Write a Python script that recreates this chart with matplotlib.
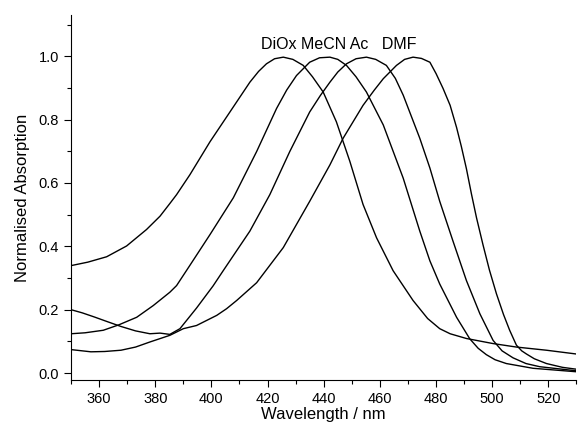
import matplotlib
matplotlib.use("Agg")
import matplotlib.pyplot as plt
from matplotlib.ticker import MultipleLocator

plt.rcParams['font.family'] = ['Liberation Sans', 'DejaVu Sans']

# wavelength (nm) / normalised absorption
wl_diox = [350, 356, 362.7, 369.8, 376.9, 381.7, 385.2, 387.6, 392.35, 399.5, 406.6, 413.7, 416.8,
           419.6, 422.5, 425.6, 429, 432.7, 436, 439.8, 444.5, 449.3, 454, 458.8, 464.7, 471.8,
           477, 481.3, 485, 490.8, 500.3, 508.6, 519.3, 530]
ab_diox = [0.339, 0.35, 0.367, 0.401, 0.453, 0.495, 0.535, 0.563, 0.626, 0.73, 0.824, 0.918, 0.952,
           0.976, 0.992, 0.997, 0.99, 0.971, 0.935, 0.887, 0.793, 0.668, 0.532, 0.427, 0.323, 0.229,
           0.172, 0.14, 0.124, 0.109, 0.093, 0.082, 0.072, 0.06]

wl_mecn = [350, 355, 361.5, 367, 373.4, 379.3, 385.2, 387.6, 392.35, 399.5, 407.8, 416.1, 423.2,
           426.8, 430.3, 435, 438.5, 442.2, 445, 448.1, 451.5, 455.2, 461.2, 468.3, 474.2, 477.8,
           481.3, 487.3, 492, 495, 497.9, 501, 505, 514.5, 530]
ab_mecn = [0.124, 0.127, 0.135, 0.152, 0.176, 0.213, 0.255, 0.276, 0.34, 0.437, 0.553, 0.699, 0.835,
           0.893, 0.939, 0.981, 0.995, 0.997, 0.99, 0.971, 0.935, 0.887, 0.783, 0.615, 0.448, 0.354,
           0.281, 0.176, 0.108, 0.078, 0.058, 0.042, 0.03, 0.015, 0.004]

wl_ac = [350, 354, 358.3, 363, 367.8, 373, 378.1, 381.7, 385.2, 388.8, 394.7, 400.6, 404.2, 413.7,
         420.8, 427.9, 435, 438.8, 442.2, 445, 448.1, 451.5, 455.2, 458.5, 462.3, 465.5, 468.3,
         474.2, 477.8, 481.3, 486, 490.8, 495.6, 500.3, 503.5, 507.4, 512, 516.9, 530]
ab_ac = [0.2, 0.19, 0.177, 0.162, 0.147, 0.133, 0.124, 0.126, 0.122, 0.14, 0.205, 0.275, 0.323, 0.448,
         0.563, 0.699, 0.824, 0.876, 0.918, 0.95, 0.976, 0.992, 0.997, 0.99, 0.971, 0.93, 0.877,
         0.741, 0.647, 0.542, 0.417, 0.292, 0.187, 0.103, 0.07, 0.048, 0.03, 0.02, 0.007]

wl_dmf = [350, 357.1, 362, 367.8, 373, 378.1, 385.2, 390, 394.7, 401.9, 405.4, 409, 416.1, 425.6,
          435, 442.2, 446.9, 454, 458, 461.2, 465.9, 468.8, 471.8, 474.8, 477.8, 480, 482.5, 485,
          487.3, 489, 490.8, 492.6, 494.4, 496.7, 499, 501.5, 504, 506.2, 508.6, 510.5, 512.2,
          515, 519.3, 525, 530]
ab_dmf = [0.074, 0.067, 0.068, 0.072, 0.082, 0.098, 0.119, 0.14, 0.15, 0.182, 0.203, 0.229, 0.285,
          0.396, 0.542, 0.657, 0.741, 0.845, 0.893, 0.929, 0.971, 0.99, 0.997, 0.993, 0.981, 0.945,
          0.898, 0.845, 0.775, 0.715, 0.645, 0.565, 0.49, 0.405, 0.325, 0.25, 0.185, 0.135, 0.088,
          0.07, 0.06, 0.045, 0.03, 0.018, 0.012]

label_text = "DiOx MeCN Ac   DMF"

fig = plt.figure(figsize=(5.78, 4.29), dpi=100)
ax = fig.add_axes([0.1228, 0.1142, 0.8746, 0.8508])

for wl, ab in [(wl_diox, ab_diox), (wl_mecn, ab_mecn), (wl_ac, ab_ac), (wl_dmf, ab_dmf)]:
    ax.plot(wl, ab, color='black', lw=1.0)

ax.text(417.6, 1.023, label_text, fontsize=11.5, va='baseline', ha='left')

ax.set_xlim(350, 530)
ax.set_ylim(-0.022, 1.13)
ax.xaxis.set_minor_locator(MultipleLocator(10))
ax.yaxis.set_minor_locator(MultipleLocator(0.1))
ax.set_xticks(range(360, 530, 20))
ax.set_yticks([0.0, 0.2, 0.4, 0.6, 0.8, 1.0])
ax.yaxis.set_major_formatter(plt.FormatStrFormatter('%.1f'))

ax.spines['top'].set_visible(False)
ax.spines['right'].set_visible(False)
ax.tick_params(direction='out', length=5, width=0.8, labelsize=10.5)
ax.tick_params(which='minor', direction='out', length=3, width=0.8)

ax.set_xlabel("Wavelength / nm", fontsize=12, labelpad=1)
ax.set_ylabel("Normalised Absorption", fontsize=12, labelpad=6)

fig.savefig("out.png", dpi=100)
